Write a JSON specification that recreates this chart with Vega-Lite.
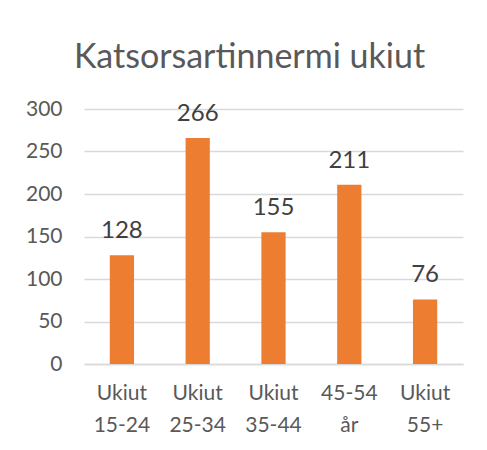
{
  "$schema": "https://vega.github.io/schema/vega-lite/v6.json",
  "autosize": {"type": "none"},
  "padding": {"left": 84, "top": 109, "right": 24, "bottom": 86},
  "width": 379,
  "height": 255,
  "background": "white",
  "title": {
    "text": "Katsorsartinnermi ukiut",
    "font": "Lato",
    "fontSize": 34,
    "fontWeight": "normal",
    "color": "#595959",
    "anchor": "middle",
    "frame": "group",
    "dx": -24,
    "offset": 23
  },
  "data": {
    "values": [
      {"label": "Ukiut 15-24", "value": 128},
      {"label": "Ukiut 25-34", "value": 266},
      {"label": "Ukiut 35-44", "value": 155},
      {"label": "45-54 år", "value": 211},
      {"label": "Ukiut 55+", "value": 76}
    ]
  },
  "encoding": {
    "x": {
      "field": "label",
      "type": "nominal",
      "sort": null,
      "scale": {"paddingInner": 0.68, "paddingOuter": 0.34},
      "axis": {
        "title": null,
        "labelAngle": 0,
        "labelExpr": "split(datum.label, ' ')",
        "labelFont": "Lato",
        "labelFontSize": 21,
        "labelColor": "#595959",
        "labelLineHeight": 32,
        "labelPadding": 18,
        "ticks": false,
        "domainColor": "#d9d9d9",
        "domainWidth": 1.5
      }
    },
    "y": {
      "field": "value",
      "type": "quantitative",
      "scale": {"domain": [0, 300]},
      "axis": {
        "title": null,
        "values": [0, 50, 100, 150, 200, 250, 300],
        "labelFont": "Lato",
        "labelFontSize": 21,
        "labelColor": "#595959",
        "labelPadding": 22,
        "ticks": false,
        "domain": false,
        "gridColor": "#d9d9d9",
        "gridWidth": 1.5
      }
    }
  },
  "layer": [
    {"mark": {"type": "bar", "color": "#ED7D31"}},
    {
      "mark": {
        "type": "text",
        "baseline": "bottom",
        "dy": -12,
        "font": "Lato",
        "fontSize": 24,
        "color": "#404040"
      },
      "encoding": {"text": {"field": "value", "type": "quantitative"}}
    }
  ],
  "config": {"view": {"stroke": null}}
}
